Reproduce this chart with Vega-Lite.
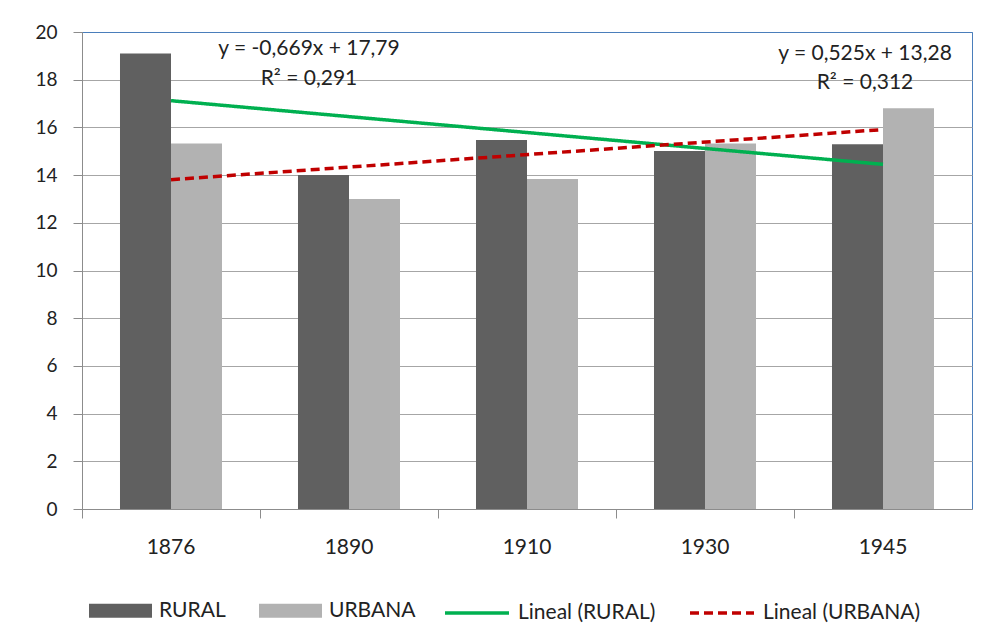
{
  "$schema": "https://vega.github.io/schema/vega-lite/v6.json",
  "autosize": {"type": "none"},
  "width": 890,
  "height": 477,
  "padding": {"left": 82, "top": 32, "right": 13, "bottom": 135},
  "background": "white",
  "config": {
    "font": "Lato",
    "view": {"stroke": "#4a7ebb", "strokeWidth": 1},
    "axis": {
      "labelFont": "Lato", "labelColor": "#222222",
      "domainColor": "#8c8c8c", "tickColor": "#8c8c8c", "tickSize": 9,
      "gridColor": "#a6a6a6"
    },
    "legend": {"labelFont": "Lato", "labelFontSize": 21, "labelColor": "#222222", "padding": 0}
  },
  "datasets": {
    "bars": [
      {"year": "1876", "serie": "RURAL", "valor": 19.1},
      {"year": "1876", "serie": "URBANA", "valor": 15.33},
      {"year": "1890", "serie": "RURAL", "valor": 14.0},
      {"year": "1890", "serie": "URBANA", "valor": 13.0},
      {"year": "1910", "serie": "RURAL", "valor": 15.47},
      {"year": "1910", "serie": "URBANA", "valor": 13.84},
      {"year": "1930", "serie": "RURAL", "valor": 15.01},
      {"year": "1930", "serie": "URBANA", "valor": 15.33},
      {"year": "1945", "serie": "RURAL", "valor": 15.29},
      {"year": "1945", "serie": "URBANA", "valor": 16.8}
    ],
    "trend": [
      {"year": "1876", "serie": "Lineal (RURAL)", "valor": 17.12},
      {"year": "1945", "serie": "Lineal (RURAL)", "valor": 14.45},
      {"year": "1876", "serie": "Lineal (URBANA)", "valor": 13.81},
      {"year": "1945", "serie": "Lineal (URBANA)", "valor": 15.91}
    ],
    "notes": [
      {"year": "1890", "valor": 19.29, "label": "y = -0,669x + 17,79", "side": "L"},
      {"year": "1890", "valor": 18.05, "label": "R² = 0,291", "side": "L"},
      {"year": "1945", "valor": 19.06, "label": "y = 0,525x + 13,28", "side": "R"},
      {"year": "1945", "valor": 17.86, "label": "R² = 0,312", "side": "R"}
    ]
  },
  "encoding": {
    "x": {
      "field": "year", "type": "ordinal",
      "scale": {"domain": ["1876", "1890", "1910", "1930", "1945"], "paddingInner": 0, "paddingOuter": 0},
      "axis": {"title": null, "labelAngle": 0, "bandPosition": 0, "labelPadding": 18, "labelFontSize": 21, "grid": false, "labelAlign": "center"}
    },
    "y": {
      "field": "valor", "type": "quantitative",
      "scale": {"domain": [0, 20], "nice": false},
      "axis": {"title": null, "values": [0, 2, 4, 6, 8, 10, 12, 14, 16, 18, 20], "labelPadding": 16, "labelFontSize": 19,
        "gridColor": {"condition": {"test": "datum.value === 20", "value": "#4a7ebb"}, "value": "#a6a6a6"}}
    }
  },
  "layer": [
    {
      "data": {"name": "bars"},
      "mark": {"type": "bar"},
      "encoding": {
        "xOffset": {"field": "serie", "type": "nominal", "scale": {"domain": ["RURAL", "URBANA"], "paddingInner": 0, "paddingOuter": 0.745}},
        "fill": {
          "field": "serie", "type": "nominal",
          "scale": {"domain": ["RURAL", "URBANA"], "range": ["#606060", "#b2b2b2"]},
          "legend": {"title": null, "orient": "none", "legendX": 7, "legendY": 547, "direction": "horizontal",
            "symbolType": "M-1,-0.22H1V0.22H-1Z", "symbolSize": 3969, "symbolStrokeWidth": 0, "symbolOpacity": 1,
            "columnPadding": 33, "labelOffset": 7}
        }
      }
    },
    {
      "data": {"name": "trend"},
      "mark": {"type": "line", "strokeWidth": 3.5},
      "encoding": {
        "stroke": {
          "field": "serie", "type": "nominal",
          "scale": {"domain": ["Lineal (RURAL)", "Lineal (URBANA)"], "range": ["#00b050", "#c00000"]},
          "legend": {"title": null, "orient": "none", "legendX": 361, "legendY": 547, "direction": "horizontal",
            "symbolType": "stroke", "symbolSize": 4096, "symbolStrokeWidth": 3.5,
            "columnPadding": 27, "labelOffset": 7}
        },
        "strokeDash": {
          "field": "serie", "type": "nominal",
          "scale": {"domain": ["Lineal (RURAL)", "Lineal (URBANA)"], "range": [[1, 0], [9, 5]]},
          "legend": {"title": null, "orient": "none", "legendX": 361, "legendY": 547, "direction": "horizontal",
            "symbolType": "stroke", "symbolSize": 4096, "symbolStrokeWidth": 3.5,
            "columnPadding": 27, "labelOffset": 7}
        }
      }
    },
    {
      "data": {"name": "notes"},
      "transform": [{"filter": "datum.side === 'L'"}],
      "mark": {"type": "text", "fontSize": 21, "font": "Lato", "color": "#222222", "dx": -40, "align": "center", "baseline": "middle"},
      "encoding": {"text": {"field": "label"}}
    },
    {
      "data": {"name": "notes"},
      "transform": [{"filter": "datum.side === 'R'"}],
      "mark": {"type": "text", "fontSize": 21, "font": "Lato", "color": "#222222", "dx": -18, "align": "center", "baseline": "middle"},
      "encoding": {"text": {"field": "label"}}
    }
  ]
}
